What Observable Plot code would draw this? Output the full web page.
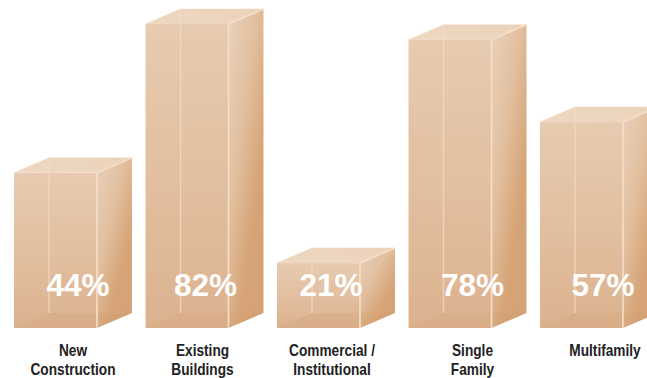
<!DOCTYPE html>
<html>
<head>
<meta charset="utf-8">
<script src="https://cdn.jsdelivr.net/npm/d3@7"></script>
<script src="https://cdn.jsdelivr.net/npm/@observablehq/plot@0.6"></script>
<style>
  html, body { margin: 0; padding: 0; background: #fff; overflow: hidden; }
  svg { display: block; }
</style>
</head>
<body>
<script>
// Share of each market segment, drawn as translucent boxes
const categories = ["New Construction", "Existing Buildings", "Commercial / Institutional", "Single Family", "Multifamily"];
const axisLabels = ["New\nConstruction", "Existing\nBuildings", "Commercial /\nInstitutional", "Single\nFamily", "Multifamily"];
const shares = [44, 82, 21, 78, 57];

// Horizontal shift of the texts relative to the front face of each box
const percentShift = [22, 18, 12, 22, 21];
const nameShift = [17, 15, 13, 22, 23];

const rows = categories.map((name, i) => ({name, share: shares[i], label: axisLabels[i]}));

const baseline = 4.4;      // the boxes stand on a truncated baseline
const depthX = 35, depthY = -15;   // oblique projection of the box depth

const SVG_NS = "http://www.w3.org/2000/svg";
function el(tag, attrs, parent) {
  const node = document.createElementNS(SVG_NS, tag);
  for (const k in attrs) node.setAttribute(k, attrs[k]);
  if (parent) parent.appendChild(node);
  return node;
}

function gradient(defs, id, dir, stops) {
  const g = el("linearGradient", {id, x1: dir[0], y1: dir[1], x2: dir[2], y2: dir[3]}, defs);
  stops.forEach(([o, c]) => el("stop", {offset: o, "stop-color": c}, g));
}

// Gradients shared by the box faces
function boxDefs() {
  const defs = el("defs", {});
  gradient(defs, "faceFront", [0, 0, 0, 1], [[0, "#e7cbb0"], [0.55, "#e1be9e"], [1, "#dcb28f"]]);
  gradient(defs, "faceSide", [0.1, 0, 0.9, 1], [[0, "#e8cfb8"], [0.35, "#e2c0a0"], [0.7, "#d6a477"], [1, "#d5a277"]]);
  gradient(defs, "faceTop", [0, 1, 1, 0], [[0, "#eed8c2"], [1, "#ebd2ba"]]);
  return defs;
}

// Side, top, floor and pale edges of each box, placed from the plot's scales
function boxSides(index, {x, y}) {
  const g = el("g", {});
  const w = x.bandwidth;
  const w0 = typeof w === "function" ? w() : w;
  const poly = (pts, attrs) => el("polygon", {points: pts.map(p => p.join(",")).join(" "), ...attrs}, g);
  const seg = (a, b, attrs) => el("line", {x1: a[0], y1: a[1], x2: b[0], y2: b[1], ...attrs}, g);
  const pale = {stroke: "#f6dfc9", "stroke-width": 1.6};
  const paleBack = {stroke: "#f2d9c2", "stroke-width": 1.4, "stroke-opacity": 0.8};
  const faint = {stroke: "#f2dcc8", "stroke-width": 1, "stroke-opacity": 0.5};
  rows.forEach(d => {
    const l = x(d.name), r = l + w0, t = y(d.share), b = y(baseline);
    poly([[r, t], [r + depthX, t + depthY], [r + depthX, b + depthY], [r, b]], {fill: "url(#faceSide)"});
    poly([[l, t], [l + depthX, t + depthY], [r + depthX, t + depthY], [r, t]], {fill: "url(#faceTop)"});
    poly([[l, b], [l + depthX, b + depthY], [r + depthX, b + depthY], [r, b]], {fill: "#cf9a70", "fill-opacity": 0.2});
    seg([l + depthX, t + depthY], [l + depthX, b + depthY], paleBack);
    seg([r, t], [r, b], pale);
    seg([r, t], [r + depthX, t + depthY], pale);
    seg([l, t], [r, t], faint);
    seg([l, t], [l + depthX, t + depthY], faint);
    seg([l + depthX, t + depthY], [r + depthX, t + depthY], faint);
  });
  return g;
}

const chart = Plot.plot({
  width: 647,
  height: 378,
  margin: 0,
  style: {background: "#fff"},
  x: {domain: categories, range: [14, 623], paddingInner: 0.369, paddingOuter: 0, round: false, axis: null},
  y: {domain: [baseline, 82], range: [328, 24], axis: null},
  marks: [
    () => boxDefs(),
    Plot.barY(rows, {x: "name", y1: baseline, y2: "share", fill: "url(#faceFront)"}),
    boxSides,
    ...rows.map((d, i) => Plot.text([d], {
      x: "name",
      text: d => `${d.share}%`,
      frameAnchor: "top",
      lineAnchor: "bottom",
      dy: 295,
      dx: percentShift[i],
      fill: "#fff",
      fontFamily: "Liberation Sans",
      fontWeight: 700,
      fontSize: 31.5
    })),
    ...rows.map((d, i) => Plot.text([d], {
      x: "name",
      text: "label",
      className: "segment-name",
      frameAnchor: "top",
      lineAnchor: "top",
      dy: 343,
      dx: nameShift[i],
      lineHeight: 1.14,
      fill: "#222",
      fontFamily: "Liberation Sans",
      fontWeight: 700,
      fontSize: 16
    }))
  ]
});

// No condensed face is available, so the segment names are narrowed horizontally
chart.querySelectorAll(".segment-name text").forEach(t => {
  t.setAttribute("transform", `${t.getAttribute("transform") || ""} scale(0.855,1)`);
});

document.body.appendChild(chart);
</script>
</body>
</html>
